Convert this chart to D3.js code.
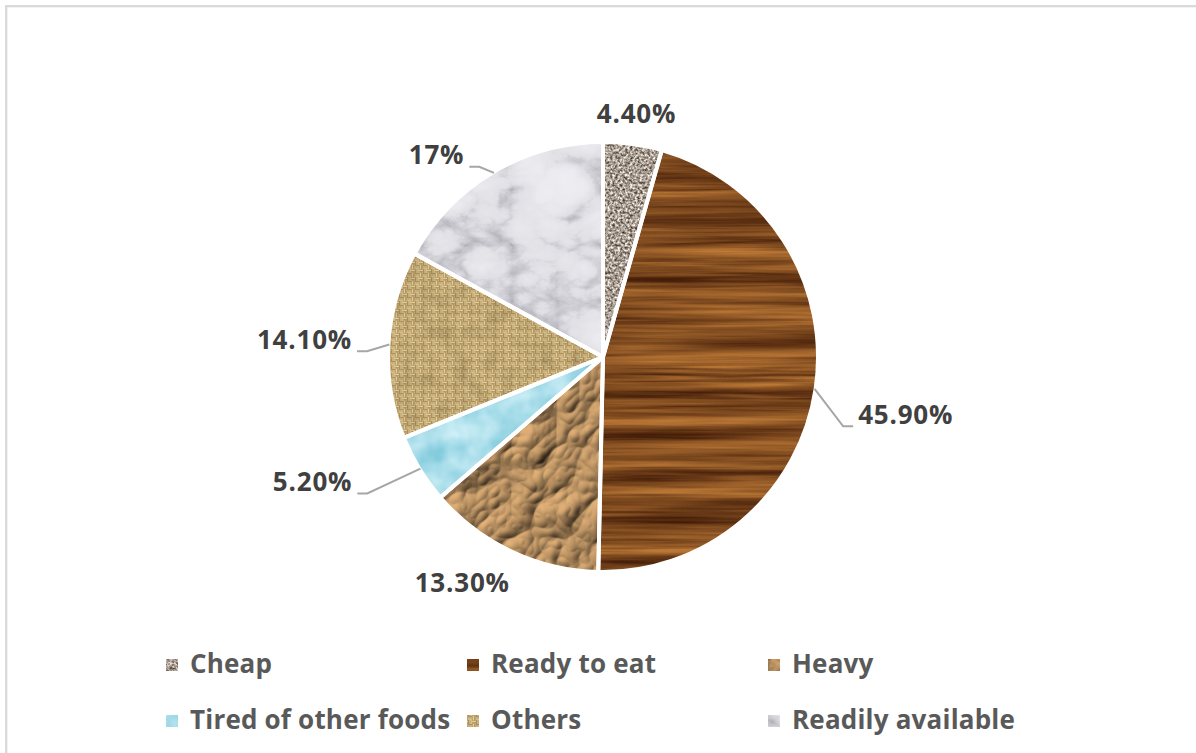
<!DOCTYPE html>
<html>
<head>
<meta charset="utf-8">
<script src="https://cdn.jsdelivr.net/npm/d3@7/dist/d3.min.js"></script>
<style>
  html, body { margin: 0; padding: 0; background: #ffffff; }
  svg { display: block; }
</style>
</head>
<body>
<div id="chart"></div>
<script>
// ---- data ----
const categories = ["Cheap", "Ready to eat", "Heavy", "Tired of other foods", "Others", "Readily available"];
const values = [4.4, 45.9, 13.3, 5.2, 14.1, 17];
const labels = ["4.40%", "45.90%", "13.30%", "5.20%", "14.10%", "17%"];

// ---- style / layout ----
const W = 1196, H = 753;
const cx = 603, cy = 357, R = 215;
const fills = ["url(#f-granite)", "url(#f-wood)", "url(#f-paper)", "url(#f-water)", "pattern", "url(#f-marble)"];
const labelAnchor = ["middle", "start", "middle", "end", "end", "end"];
const labelNudge = [[-1.5, 17.5], [4, 29], [-32.5, 5], [-34, 1.5], [2.6, 6.6], [-9.3, 25.8]];
const hasLeader = [false, true, false, true, true, true];

const svg = d3.select("#chart").append("svg").attr("width", W).attr("height", H);
svg.append("rect").attr("width", W).attr("height", H).attr("fill", "#fff");
svg.append("rect").attr("x", 6.2).attr("y", 6.2).attr("width", W + 20).attr("height", H + 20)
  .attr("fill", "none").attr("stroke", "#d9d9d9").attr("stroke-width", 2.3);

const defs = svg.append("defs");

function newFilter(id) {
  return defs.append("filter").attr("id", id)
    .attr("x", "-5%").attr("y", "-5%").attr("width", "110%").attr("height", "110%")
    .attr("color-interpolation-filters", "sRGB");
}
function colorFilter(id, turb, matrix) {
  const f = newFilter(id);
  turb(f);
  f.append("feColorMatrix").attr("type", "matrix").attr("values", matrix);
  f.append("feComposite").attr("in2", "SourceGraphic").attr("operator", "in");
  return f;
}

// granite
colorFilter("f-granite", f => {
  f.append("feTurbulence").attr("type", "fractalNoise").attr("baseFrequency", "0.4").attr("numOctaves", 2).attr("seed", 7);
}, "1.33 0 0 0 -0.01  1.33 0 0 0 -0.05  1.33 0 0 0 -0.09  0 0 0 0 1");

// wood
(function () {
  const f = newFilter("f-wood");
  f.append("feTurbulence").attr("type", "fractalNoise").attr("baseFrequency", "0.0025 0.07").attr("numOctaves", 3).attr("seed", 11).attr("result", "n1");
  f.append("feTurbulence").attr("type", "fractalNoise").attr("baseFrequency", "0.01 0.35").attr("numOctaves", 2).attr("seed", 4).attr("result", "n2");
  f.append("feComposite").attr("in", "n1").attr("in2", "n2").attr("operator", "arithmetic")
    .attr("k1", 0).attr("k2", 0.7).attr("k3", 0.3).attr("k4", 0).attr("result", "n");
  f.append("feColorMatrix").attr("in", "n").attr("type", "matrix")
    .attr("values", "0.95 0 0 0 0.02  0.72 0 0 0 -0.07  0.36 0 0 0 -0.06  0 0 0 0 1");
  f.append("feComposite").attr("in2", "SourceGraphic").attr("operator", "in");
})();

// crumpled paper
(function () {
  const f = newFilter("f-paper");
  f.append("feTurbulence").attr("type", "turbulence").attr("baseFrequency", "0.022").attr("numOctaves", 3).attr("seed", 2).attr("result", "n");
  const l = f.append("feDiffuseLighting").attr("in", "n").attr("surfaceScale", 5)
    .attr("diffuseConstant", 1.12).attr("lighting-color", "#cca06c").attr("result", "lit");
  l.append("feDistantLight").attr("azimuth", 235).attr("elevation", 50);
  f.append("feComposite").attr("in", "lit").attr("in2", "SourceGraphic").attr("operator", "in");
})();

// water
colorFilter("f-water", f => {
  f.append("feTurbulence").attr("type", "fractalNoise").attr("baseFrequency", "0.035").attr("numOctaves", 3).attr("seed", 5);
}, "0.45 0 0 0 0.43  0.22 0 0 0 0.755  0.16 0 0 0 0.835  0 0 0 0 1");

// marble
(function () {
  const f = newFilter("f-marble");
  f.append("feTurbulence").attr("type", "turbulence").attr("baseFrequency", "0.011 0.018").attr("numOctaves", 5).attr("seed", 9);
  f.append("feColorMatrix").attr("type", "matrix").attr("values", "1 0 0 0 0  1 0 0 0 0  1 0 0 0 0  0 0 0 0 1");
  const ct = f.append("feComponentTransfer");
  ct.append("feFuncR").attr("type", "table").attr("tableValues", "0.68 0.88 0.92 0.93 0.94");
  ct.append("feFuncG").attr("type", "table").attr("tableValues", "0.68 0.88 0.92 0.93 0.94");
  ct.append("feFuncB").attr("type", "table").attr("tableValues", "0.71 0.90 0.94 0.95 0.96");
  f.append("feComposite").attr("in2", "SourceGraphic").attr("operator", "in");
})();

// burlap pattern
(function () {
  const s = 8, h = s / 2, t = 1.5;
  const p = defs.append("pattern").attr("id", "p-burlap").attr("patternUnits", "userSpaceOnUse")
    .attr("width", s).attr("height", s);
  p.append("rect").attr("width", s).attr("height", s).attr("fill", "#6e5128");
  const lt = "#efdca6", md = "#d6ba80";
  p.append("rect").attr("x", 0).attr("y", 0.4).attr("width", h).attr("height", t).attr("fill", lt);
  p.append("rect").attr("x", 0).attr("y", 2.3).attr("width", h).attr("height", t).attr("fill", md);
  p.append("rect").attr("x", h + 0.4).attr("y", 0).attr("width", t).attr("height", h).attr("fill", md);
  p.append("rect").attr("x", h + 2.3).attr("y", 0).attr("width", t).attr("height", h).attr("fill", lt);
  p.append("rect").attr("x", 0.4).attr("y", h).attr("width", t).attr("height", h).attr("fill", lt);
  p.append("rect").attr("x", 2.3).attr("y", h).attr("width", t).attr("height", h).attr("fill", md);
  p.append("rect").attr("x", h).attr("y", h + 0.4).attr("width", h).attr("height", t).attr("fill", md);
  p.append("rect").attr("x", h).attr("y", h + 2.3).attr("width", h).attr("height", t).attr("fill", lt);
  const f = newFilter("f-burlap-shade");
  f.append("feTurbulence").attr("type", "fractalNoise").attr("baseFrequency", "0.06").attr("numOctaves", 2).attr("seed", 3);
  f.append("feColorMatrix").attr("type", "matrix").attr("values", "0 0 0 0 0.25  0 0 0 0 0.17  0 0 0 0 0.05  -1.6 0 0 0 0.95");
  f.append("feComposite").attr("in2", "SourceGraphic").attr("operator", "in");
})();

function applyFill(sel, i) {
  if (fills[i] === "pattern") sel.attr("fill", "url(#p-burlap)");
  else sel.attr("fill", "#000").attr("filter", fills[i]);
}

// ---- pie ----
const pie = d3.pie().sort(null).value(d => d)(values);
const arc = d3.arc().innerRadius(0).outerRadius(R);
const g = svg.append("g").attr("transform", `translate(${cx},${cy})`);

g.selectAll("path.slice").data(pie).join("path").attr("class", "slice")
  .attr("d", arc).each(function (d, i) { applyFill(d3.select(this), i); });
g.append("path").attr("d", arc(pie[4])).attr("fill", "#000").attr("filter", "url(#f-burlap-shade)").attr("opacity", 0.25);

g.selectAll("path.sep").data(pie).join("path").attr("class", "sep")
  .attr("d", arc).attr("fill", "none").attr("stroke", "#fff").attr("stroke-width", 4).attr("stroke-linejoin", "round");

// ---- labels ----
const edge = d3.arc().innerRadius(R - 1).outerRadius(R - 1);
const outer = d3.arc().innerRadius(R + 39).outerRadius(R + 39);
function midPoint(a, d) {
  const m = (d.startAngle + d.endAngle) / 2;
  return a.centroid({ startAngle: m, endAngle: m });
}
const lab = g.append("g");
pie.forEach((d, i) => {
  const o = midPoint(outer, d);
  const tx = o[0] + labelNudge[i][0], ty = o[1] + labelNudge[i][1];
  if (hasLeader[i]) {
    const e = midPoint(edge, d);
    const side = labelAnchor[i] === "start" ? -1 : 1;
    const pts = [e, [tx + side * 15, ty + 2.5], [tx + side * 5, ty + 2.5]];
    lab.append("path").attr("d", d3.line()(pts)).attr("fill", "none")
      .attr("stroke", "#a6a6a6").attr("stroke-width", 2);
  }
  lab.append("text").attr("x", tx).attr("y", ty).attr("text-anchor", labelAnchor[i])
    .attr("font-family", "'Open Sans', sans-serif").attr("font-weight", 700).attr("font-size", 26)
    .attr("letter-spacing", 0.8).attr("fill", "#404040").text(labels[i]);
});

// ---- legend ----
const colX = d3.scalePoint().domain([0, 1, 2]).range([166, 768]);
const rowY = d3.scalePoint().domain([0, 1]).range([659, 715]);
const leg = svg.append("g");
categories.forEach((c, i) => {
  const x = colX(i % 3), y = rowY(Math.floor(i / 3));
  const r = leg.append("rect").attr("x", x).attr("y", y).attr("width", 12).attr("height", 12);
  applyFill(r, i);
  leg.append("text").attr("x", x + 24).attr("y", y + 14)
    .attr("font-family", "'Open Sans', sans-serif").attr("font-weight", 700).attr("font-size", 26)
    .attr("letter-spacing", 0.2).attr("fill", "#595959").text(c);
});
</script>
</body>
</html>
